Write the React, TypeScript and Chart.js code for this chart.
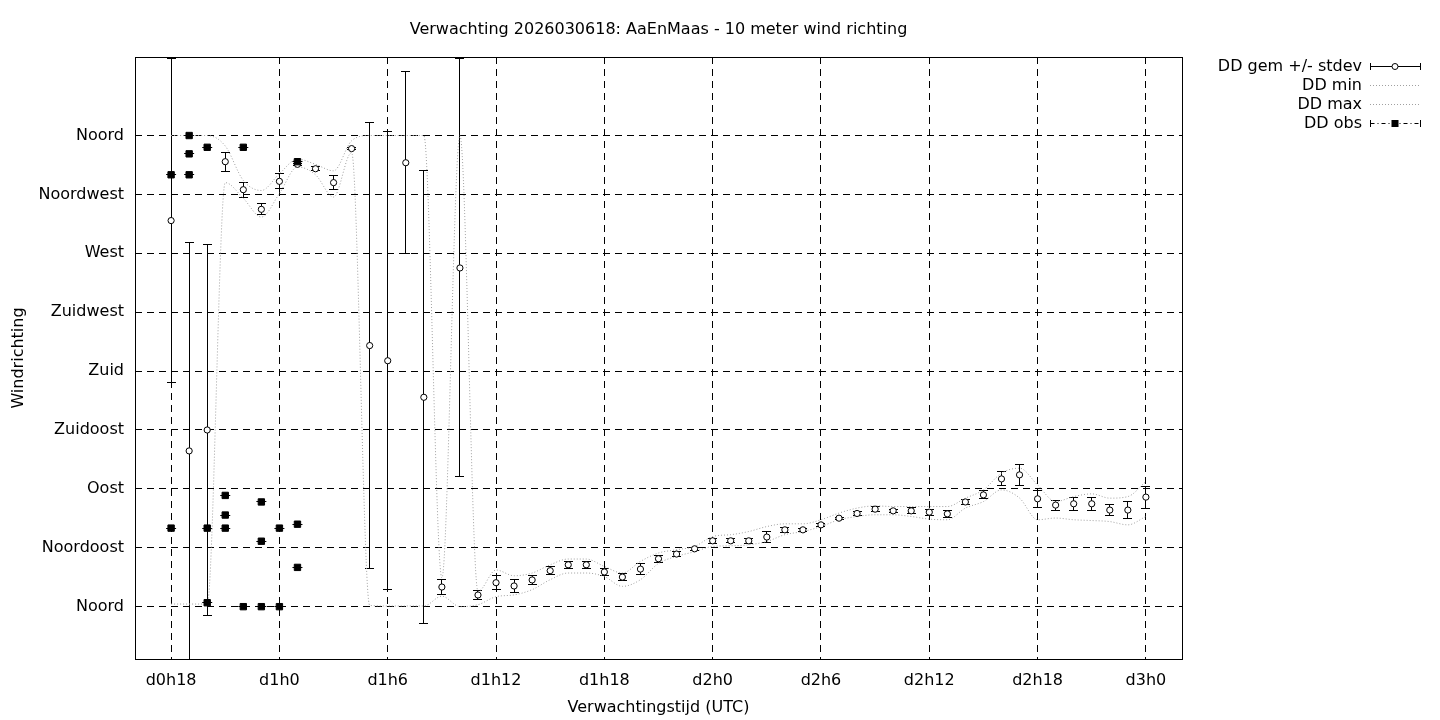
import React, { useEffect, useRef } from "react";
import { Chart, registerables } from "chart.js";

Chart.register(...registerables);

const TITLE = "Verwachting 2026030618: AaEnMaas - 10 meter wind richting";
const X_TITLE = "Verwachtingstijd (UTC)";
const Y_TITLE = "Windrichting";

const hours = [
  18, 19, 20, 21, 22, 23, 24, 25, 26, 27, 28, 29, 30, 31, 32, 33, 34, 35, 36,
  37, 38, 39, 40, 41, 42, 43, 44, 45, 46, 47, 48, 49, 50, 51, 52, 53, 54, 55,
  56, 57, 58, 59, 60, 61, 62, 63, 64, 65, 66, 67, 68, 69, 70, 71, 72,
];

const ddMean = [
  295, 119, 135, 340, 318.6, 303.6, 325, 338, 334.6, 324, 350, 199.5, 187.9,
  339.2, 160, 15, 258.8, 8.9, 18.3, 15.8, 20.4, 27.5, 32, 32, 26.5, 22.6, 28.7,
  36.6, 40.2, 44.2, 50.3, 50.3, 50.3, 53.2, 58.7, 58.7, 62.5, 67.6, 71.2, 74.5,
  73.2, 73.2, 72.2, 70.9, 80, 85.4, 97.6, 100.7, 82.4, 77.6, 78.6, 78.6, 73.8,
  73.8, 83.7,
];

const ddStdev = [
  124, 159, 142, 7.4, 5.6, 4.3, 5.7, 1, 1.5, 5.6, 1, 170.5, 175, 69.4, 173,
  5.8, 159.7, 3.7, 5.5, 5, 3.6, 2.9, 2.8, 2.8, 2.4, 2.5, 4, 2.7, 1.9, 1, 2,
  1.5, 1.9, 4, 1.9, 1, 1, 0.8, 1.2, 1.9, 1.2, 2.3, 2.3, 2.5, 1.8, 3, 5.3, 8,
  6.5, 3.8, 4.8, 4.9, 4, 6.2, 8.4,
];

const ddMin = [
  2, 2, 2, 324, 312, 297.7, 315.7, 336, 330, 313, 347, 1, 0.5, 0.5, 0.5, 8, 0,
  1.5, 7.6, 9, 13, 20.6, 25.7, 25.7, 23, 15.5, 20.6, 33, 38.4, 42, 46, 46.5,
  47.3, 49.8, 55, 57.4, 61.2, 66.4, 68.9, 70.2, 70.2, 68.9, 66.9, 66.4, 75.3,
  80.3, 89.2, 83, 66.4, 67.7, 66.4, 65.8, 65, 62.5, 68.9,
];

const ddMax = [
  360, 360, 360, 352, 325.7, 318, 330.8, 342, 338, 333, 356, 360, 360, 360,
  360, 22, 360, 11.7, 28, 23.6, 25.7, 32, 36.4, 36.4, 30.7, 25.7, 34.6, 41,
  43.5, 46, 53.6, 55, 57.4, 61.2, 63.3, 63.3, 66.4, 71.5, 75.3, 77, 76.5, 76.5,
  76.5, 76.5, 82.9, 89.2, 102, 105.8, 93, 80.3, 84.1, 86.2, 82.9, 84.1, 95.6,
];

const obsHours = [18, 18, 19, 19, 19, 20, 20, 20, 21, 21, 21, 22, 22, 23, 23, 23, 24, 24, 25, 25, 25];
const obsValues = [330, 60, 360, 346, 330, 351, 60, 3, 85, 70, 60, 351, 0, 80, 50, 0, 60, 0, 340, 63, 30];

const xTickValues = [18, 24, 30, 36, 42, 48, 54, 60, 66, 72];
const xTickLabels = ["d0h18", "d1h0", "d1h6", "d1h12", "d1h18", "d2h0", "d2h6", "d2h12", "d2h18", "d3h0"];
const yTickValues = [0, 45, 90, 135, 180, 225, 270, 315, 360];
const yTickLabels = ["Noord", "Noordoost", "Oost", "Zuidoost", "Zuid", "Zuidwest", "West", "Noordwest", "Noord"];
const legendLabels = ["DD gem +/- stdev", "DD min", "DD max", "DD obs"];

const FONT_FAMILY = '"DejaVu Sans", "Liberation Sans", sans-serif';
const FONT_SIZE = 16;
const FONT = `${FONT_SIZE}px ${FONT_FAMILY}`;
const DOT_COLOR = "#a0a0a0";

const align = (v: number) => Math.round(v - 0.5) + 0.5;

const decorPlugin = {
  id: "decor",
  beforeDatasetsDraw(chart: any) {
    const { ctx, chartArea: a, scales } = chart;
    const xs = scales.x;
    const ys = scales.y;
    ctx.save();
    ctx.beginPath();
    ctx.rect(a.left, a.top, a.right - a.left, a.bottom - a.top);
    ctx.clip();
    ctx.strokeStyle = "#000";
    ctx.lineWidth = 1;
    ctx.setLineDash([]);
    ctx.beginPath();
    for (let i = 0; i < hours.length; i++) {
      const px = align(xs.getPixelForValue(hours[i]));
      const top = align(ys.getPixelForValue(ddMean[i] + ddStdev[i]));
      const bot = align(ys.getPixelForValue(ddMean[i] - ddStdev[i]));
      ctx.moveTo(px, top);
      ctx.lineTo(px, bot);
      ctx.moveTo(px - 4.5, top);
      ctx.lineTo(px + 4.5, top);
      ctx.moveTo(px - 4.5, bot);
      ctx.lineTo(px + 4.5, bot);
    }
    for (let i = 0; i < obsHours.length; i++) {
      const px = xs.getPixelForValue(obsHours[i]);
      const py = align(ys.getPixelForValue(obsValues[i]));
      ctx.moveTo(px - 5, py);
      ctx.lineTo(px + 5, py);
    }
    ctx.stroke();
    ctx.restore();
  },
  afterDraw(chart: any) {
    const { ctx, chartArea: a } = chart;
    ctx.save();
    // plot border
    ctx.strokeStyle = "#000";
    ctx.lineWidth = 1;
    ctx.setLineDash([]);
    const l = align(a.left);
    const t = align(a.top);
    const r = align(a.right);
    const b = align(a.bottom);
    ctx.strokeRect(l, t, r - l, b - t);

    ctx.fillStyle = "#000";
    ctx.font = FONT;
    ctx.textBaseline = "middle";
    ctx.textAlign = "center";
    const cx = (a.left + a.right) / 2;
    ctx.fillText(TITLE, cx, 30);
    ctx.fillText(X_TITLE, cx, 708);
    ctx.save();
    ctx.translate(19, (a.top + a.bottom) / 2);
    ctx.rotate(-Math.PI / 2);
    ctx.fillText(Y_TITLE, 0, 0);
    ctx.restore();

    // legend
    const textX = 1362;
    const s0 = 1370;
    const s1 = 1420;
    const sm = (s0 + s1) / 2;
    const rows = [67, 86, 105, 124];
    ctx.textAlign = "right";
    legendLabels.forEach((lab, i) => ctx.fillText(lab, textX, rows[i]));

    // row 1: errorbar with circle
    let y = rows[0] - 0.5;
    ctx.beginPath();
    ctx.moveTo(s0 + 0.5, y);
    ctx.lineTo(s1 + 0.5, y);
    ctx.moveTo(s0 + 0.5, y - 3.5);
    ctx.lineTo(s0 + 0.5, y + 3.5);
    ctx.moveTo(s1 + 0.5, y - 3.5);
    ctx.lineTo(s1 + 0.5, y + 3.5);
    ctx.stroke();
    ctx.beginPath();
    ctx.arc(sm, y, 3, 0, Math.PI * 2);
    ctx.fillStyle = "#fff";
    ctx.fill();
    ctx.stroke();

    // rows 2,3: dotted
    ctx.strokeStyle = DOT_COLOR;
    ctx.setLineDash([1, 2]);
    for (const ry of [rows[1], rows[2]]) {
      ctx.beginPath();
      ctx.moveTo(s0, ry - 0.5);
      ctx.lineTo(s1, ry - 0.5);
      ctx.stroke();
    }

    // row 4: dash-dot with square
    y = rows[3] - 0.5;
    ctx.strokeStyle = "#000";
    ctx.setLineDash([4, 3, 1, 3]);
    ctx.beginPath();
    ctx.moveTo(s0 + 0.5, y);
    ctx.lineTo(s1 + 0.5, y);
    ctx.stroke();
    ctx.setLineDash([]);
    ctx.beginPath();
    ctx.moveTo(s0 + 0.5, y - 3.5);
    ctx.lineTo(s0 + 0.5, y + 3.5);
    ctx.moveTo(s1 + 0.5, y - 3.5);
    ctx.lineTo(s1 + 0.5, y + 3.5);
    ctx.stroke();
    ctx.fillStyle = "#000";
    ctx.fillRect(sm - 3.5, y - 3.5, 7, 7);
    ctx.restore();
  },
};

export default function App() {
  const ref = useRef<HTMLCanvasElement | null>(null);

  useEffect(() => {
    if (!ref.current) return;
    const meanData = hours.map((h, i) => ({ x: h, y: ddMean[i] }));
    const minData = hours.map((h, i) => ({ x: h, y: ddMin[i] }));
    const maxData = hours.map((h, i) => ({ x: h, y: ddMax[i] }));
    const obsData = obsHours.map((h, i) => ({ x: h, y: obsValues[i] }));

    const chart = new Chart(ref.current, {
      type: "scatter",
      data: {
        datasets: [
          {
            label: legendLabels[3],
            data: obsData,
            pointStyle: "rect",
            pointRadius: 4.5,
            backgroundColor: "#000",
            borderColor: "#000",
            borderWidth: 1,
            showLine: false,
          },
          {
            label: legendLabels[0],
            data: meanData,
            pointStyle: "circle",
            pointRadius: 3.1,
            backgroundColor: "#fff",
            borderColor: "#000",
            borderWidth: 1,
            showLine: false,
          },
          {
            type: "line",
            label: legendLabels[1],
            data: minData,
            borderColor: DOT_COLOR,
            borderWidth: 1,
            borderDash: [1, 2],
            pointRadius: 0,
            fill: false,
            cubicInterpolationMode: "monotone",
          },
          {
            type: "line",
            label: legendLabels[2],
            data: maxData,
            borderColor: DOT_COLOR,
            borderWidth: 1,
            borderDash: [1, 2],
            pointRadius: 0,
            fill: false,
            cubicInterpolationMode: "monotone",
          },
        ] as any,
      },
      options: {
        responsive: false,
        maintainAspectRatio: false,
        devicePixelRatio: 1,
        animation: false,
        events: [],
        layout: { padding: { top: 57, right: 258, left: 0, bottom: 0 } },
        plugins: {
          legend: { display: false },
          title: { display: false },
          tooltip: { enabled: false },
        },
        scales: {
          x: {
            type: "linear",
            min: 16,
            max: 74,
            afterFit: (s: any) => {
              s.height = 61;
            },
            afterBuildTicks: (s: any) => {
              s.ticks = xTickValues.map((v) => ({ value: v }));
            },
            ticks: {
              autoSkip: false,
              maxRotation: 0,
              padding: 12,
              color: "#000",
              font: { family: FONT_FAMILY, size: FONT_SIZE },
              callback: (v: any) => xTickLabels[xTickValues.indexOf(Number(v))],
            },
            grid: { color: "#000", lineWidth: 1, drawTicks: false },
            border: { display: false, dash: [7, 5] },
          },
          y: {
            type: "linear",
            min: -40,
            max: 420,
            afterFit: (s: any) => {
              s.width = 135;
            },
            afterBuildTicks: (s: any) => {
              s.ticks = yTickValues.map((v) => ({ value: v }));
            },
            ticks: {
              autoSkip: false,
              padding: 11,
              color: "#000",
              font: { family: FONT_FAMILY, size: FONT_SIZE },
              callback: (v: any) => yTickLabels[yTickValues.indexOf(Number(v))],
            },
            grid: { color: "#000", lineWidth: 1, drawTicks: false },
            border: { display: false, dash: [7, 5] },
          },
        },
      } as any,
      plugins: [decorPlugin],
    });
    return () => chart.destroy();
  }, []);

  return (
    <div style={{ position: "absolute", left: 0, top: 0, width: 1440, height: 720, background: "#fff" }}>
      <canvas ref={ref} width={1440} height={720} style={{ width: 1440, height: 720, display: "block" }} />
    </div>
  );
}
